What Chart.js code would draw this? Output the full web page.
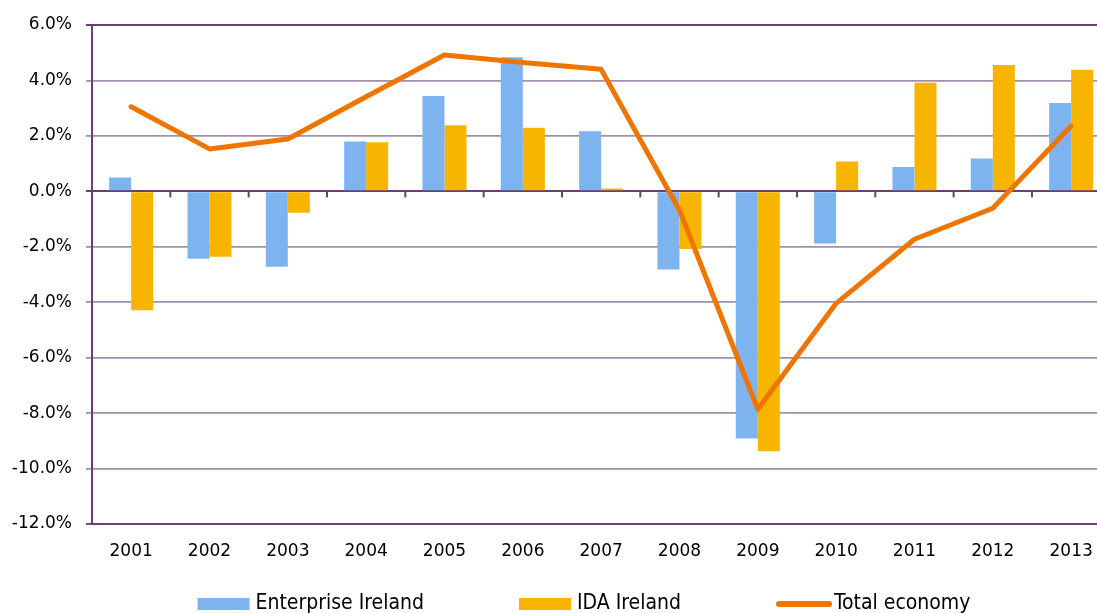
<!DOCTYPE html>
<html><head><meta charset="utf-8">
<script src="https://cdn.jsdelivr.net/npm/chart.js@4"></script>
<style>
html,body{margin:0;padding:0;overflow:hidden;background:#fff}
#wrap{width:1120px;height:613px;position:relative}
</style>
</head><body><div id="wrap"><canvas id="c"></canvas></div>
<script>
const categories = ['2001','2002','2003','2004','2005','2006','2007','2008','2009','2010','2011','2012','2013'];
const enterpriseIreland = [0.50, -2.43, -2.72, 1.80, 3.44, 4.84, 2.17, -2.82, -8.92, -1.88, 0.88, 1.18, 3.19];
const idaIreland = [-4.29, -2.36, -0.77, 1.77, 2.38, 2.29, 0.10, -2.08, -9.38, 1.08, 3.92, 4.56, 4.39];
const totalEconomy = [3.05, 1.53, 1.89, 3.41, 4.92, 4.65, 4.40, -0.68, -7.86, -4.04, -1.73, -0.61, 2.36];
const seriesNames = ['Enterprise Ireland', 'IDA Ireland', 'Total economy'];
const yMin = -12, yMax = 6, yStep = 2;

const AXIS = '#6b3f73';
const GRID = '#a48fab';
const FONT = "'DejaVu Sans', sans-serif";
const LEGEND_FONT = "21px 'DejaVu Sans Condensed', 'DejaVu Sans', sans-serif";

const zeroTicks = {
  id: 'zeroTicks',
  beforeDatasetsDraw(chart) {
    const {ctx, scales: {x, y}} = chart;
    const y0 = y.getPixelForValue(0);
    ctx.save();
    ctx.strokeStyle = AXIS;
    ctx.lineWidth = 2;
    for (let i = 1; i < categories.length; i++) {
      const px = (x.getPixelForValue(i - 1) + x.getPixelForValue(i)) / 2;
      ctx.beginPath();
      ctx.moveTo(px, y0);
      ctx.lineTo(px, y0 + 6);
      ctx.stroke();
    }
    ctx.restore();
  }
};

const customLegend = {
  id: 'customLegend',
  afterDraw(chart) {
    const ctx = chart.ctx;
    ctx.save();
    ctx.font = LEGEND_FONT;
    ctx.textBaseline = 'middle';
    ctx.textAlign = 'left';
    const boxW = 52, boxH = 12, gapText = 6, gapItem = 95;
    const ds = chart.data.datasets;
    const widths = ds.map(d => boxW + gapText + ctx.measureText(d.label).width);
    const total = widths.reduce((a, b) => a + b, 0) + gapItem * (ds.length - 1);
    let x = 584 - total / 2;
    const cy = 604;
    ds.forEach((d, i) => {
      if (d.type === 'line') {
        ctx.strokeStyle = d.borderColor;
        ctx.lineWidth = 6;
        ctx.lineCap = 'round';
        ctx.beginPath();
        ctx.moveTo(x + 3, cy);
        ctx.lineTo(x + boxW + 1, cy);
        ctx.stroke();
      } else {
        ctx.fillStyle = d.backgroundColor;
        ctx.fillRect(x, cy - boxH / 2, boxW, boxH);
      }
      ctx.fillStyle = '#000';
      ctx.fillText(d.label, x + boxW + gapText, cy);
      x += widths[i] + gapItem;
    });
    ctx.restore();
  }
};

new Chart(document.getElementById('c'), {
  data: {
    labels: categories,
    datasets: [
      {type: 'bar', label: seriesNames[0], data: enterpriseIreland, backgroundColor: '#7db4f0', borderWidth: 0, order: 1},
      {type: 'bar', label: seriesNames[1], data: idaIreland, backgroundColor: '#f7b500', borderWidth: 0, order: 1},
      {type: 'line', label: seriesNames[2], data: totalEconomy, borderColor: '#ee7600', backgroundColor: '#ee7600',
        borderWidth: 5, pointRadius: 0, tension: 0, borderCapStyle: 'round', borderJoinStyle: 'round', order: -1}
    ]
  },
  options: {
    responsive: true,
    maintainAspectRatio: false,
    animation: false,
    layout: {padding: {left: 12, right: 9.7, top: 25, bottom: 0}},
    datasets: {bar: {categoryPercentage: 0.562, barPercentage: 1}},
    plugins: {legend: {display: false}, tooltip: {enabled: false}},
    scales: {
      x: {
        offset: true,
        grid: {display: false, drawTicks: false},
        border: {display: true, color: AXIS, width: 2},
        ticks: {color: '#000', font: {family: FONT, size: 17}, padding: 17, maxRotation: 0},
        afterFit(scale) { scale.height = 89; }
      },
      y: {
        min: yMin, max: yMax,
        ticks: {stepSize: yStep, color: '#000', font: {family: FONT, size: 17}, padding: 14,
          callback: v => v.toFixed(1) + '%'},
        grid: {
          color: c => (c.tick.value === 0 || c.tick.value === yMax || c.tick.value === yMin) ? AXIS : GRID,
          lineWidth: c => (c.tick.value === 0 || c.tick.value === yMax) ? 2 : 1.8,
          tickLength: 6
        },
        border: {display: true, color: AXIS, width: 2},
        afterFit(scale) { scale.width = 80; }
      }
    }
  },
  plugins: [zeroTicks, customLegend]
});
</script>
</body></html>
